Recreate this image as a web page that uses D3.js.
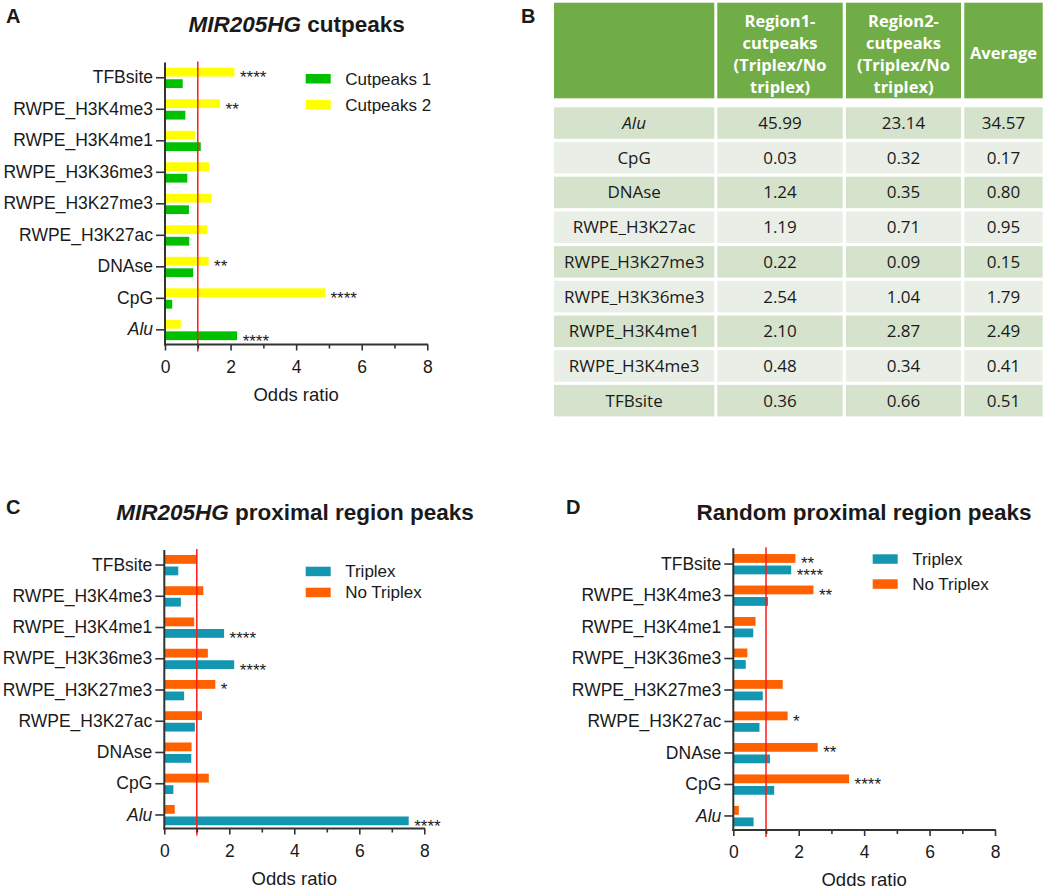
<!DOCTYPE html>
<html>
<head>
<meta charset="utf-8">
<script src="https://cdn.jsdelivr.net/npm/d3@7"></script>
<style>
  body { margin: 0; background: #fff; }
  svg text { font-family: "Liberation Sans", Arial, sans-serif; fill: #1a1a1a; }
  .tbl text { font-family: "Open Sans", "Noto Sans", sans-serif; }
</style>
</head>
<body>
<svg id="fig" width="1045" height="890"></svg>
<script>
// categories, top to bottom as plotted
var categories = ["TFBsite", "RWPE_H3K4me3", "RWPE_H3K4me1", "RWPE_H3K36me3",
    "RWPE_H3K27me3", "RWPE_H3K27ac", "DNAse", "CpG", "Alu"]
var italicCats = ["Alu"]

// panel A
var cutpeaks1 = [0.54, 0.62, 1.09, 0.68, 0.73, 0.74, 0.86, 0.22, 2.20]
var cutpeaks2 = [2.12, 1.68, 0.91, 1.35, 1.41, 1.29, 1.33, 4.88, 0.48]
var starsCut1 = ["", "", "", "", "", "", "", "", "****"]
var starsCut2 = ["****", "**", "", "", "", "", "**", "****", ""]

// panel C
var cTriplex = [0.43, 0.51, 1.84, 2.15, 0.61, 0.94, 0.83, 0.28, 7.52]
var cNoTriplex = [1.00, 1.20, 0.92, 1.34, 1.57, 1.16, 0.84, 1.37, 0.32]
var starsCTriplex = ["", "", "****", "****", "", "", "", "", "****"]
var starsCNoTriplex = ["", "", "", "", "*", "", "", "", ""]

// panel D
var dTriplex = [1.77, 1.06, 0.61, 0.38, 0.90, 0.80, 1.12, 1.25, 0.62]
var dNoTriplex = [1.90, 2.45, 0.68, 0.43, 1.51, 1.66, 2.58, 3.54, 0.17]
var starsDTriplex = ["****", "", "", "", "", "", "", "", ""]
var starsDNoTriplex = ["**", "**", "", "", "", "*", "**", "****", ""]

var majorTicks = [0, 2, 4, 6, 8]
var minorTicks = [1, 3, 5, 7]
var refLine = 1

// panel B table
var tableHead = [[], ["Region1-", "cutpeaks", "(Triplex/No", "triplex)"],
    ["Region2-", "cutpeaks", "(Triplex/No", "triplex)"], ["Average"]]
var tableRows = ["Alu", "CpG", "DNAse", "RWPE_H3K27ac", "RWPE_H3K27me3",
    "RWPE_H3K36me3", "RWPE_H3K4me1", "RWPE_H3K4me3", "TFBsite"]
var region1 = ["45.99", "0.03", "1.24", "1.19", "0.22", "2.54", "2.10", "0.48", "0.36"]
var region2 = ["23.14", "0.32", "0.35", "0.71", "0.09", "1.04", "2.87", "0.34", "0.66"]
var average = ["34.57", "0.17", "0.80", "0.95", "0.15", "1.79", "2.49", "0.41", "0.51"]

var GREEN = "#00c000", YELLOW = "#ffff00", TEAL = "#1396b0", ORANGE = "#ff6000"
var AXIS = "#333"

var svg = d3.select("#fig")

function drawPanel(cfg) {
    var g = svg.append("g")
    var x = d3.scaleLinear().domain([0, 8]).range(cfg.xRange)
    var y = d3.scaleBand().domain(categories).range(cfg.bandRange)

    // bars: series[0] above the tick, series[1] below
    cfg.series.forEach(function (s, si) {
        var off = si === 0 ? -10 : 1.5
        g.selectAll(null).data(s.values).enter().append("rect")
            .attr("x", x(0))
            .attr("y", function (d, i) { return y(categories[i]) + y.bandwidth() / 2 + off })
            .attr("width", function (d) { return x(d) - x(0) })
            .attr("height", 8.8)
            .attr("fill", s.color)
        g.selectAll(null).data(s.stars).enter().append("text")
            .attr("x", function (d, i) { return x(s.values[i]) + 5.5 })
            .attr("y", function (d, i) { return y(categories[i]) + y.bandwidth() / 2 + off + 4.4 + 11 })
            .style("font-size", "17px")
            .text(function (d) { return d })
    })

    // reference line
    g.append("line")
        .attr("x1", x(refLine)).attr("x2", x(refLine))
        .attr("y1", cfg.top - 1).attr("y2", cfg.axisY + 7)
        .attr("stroke", "#ff1a1a").attr("stroke-width", 1.5)

    // x axis
    var xAxis = g.append("g").attr("transform", "translate(0," + cfg.axisY + ")")
        .call(d3.axisBottom(x).tickValues(majorTicks).tickSize(6).tickPadding(10).tickSizeOuter(0))
    xAxis.select(".domain").remove()
    xAxis.selectAll("line").attr("stroke", AXIS).attr("stroke-width", 1.6)
    xAxis.selectAll("text").style("font-size", "17.5px").attr("fill", "#1a1a1a")
        .style("font-family", "Liberation Sans, Arial, sans-serif")
    var xMinor = g.append("g").attr("transform", "translate(0," + cfg.axisY + ")")
        .call(d3.axisBottom(x).tickValues(minorTicks).tickSize(4).tickFormat("").tickSizeOuter(0))
    xMinor.select(".domain").remove()
    xMinor.selectAll("line").attr("stroke", AXIS).attr("stroke-width", 1.6)

    // y axis
    var yAxis = g.append("g").attr("transform", "translate(" + x(0) + ",0)")
        .call(d3.axisLeft(y).tickSize(9).tickPadding(3).tickSizeOuter(0))
    yAxis.select(".domain").remove()
    yAxis.selectAll("line").attr("stroke", AXIS).attr("stroke-width", 1.6)
    yAxis.selectAll("text").style("font-size", "17.5px").attr("fill", "#1a1a1a")
        .style("font-family", "Liberation Sans, Arial, sans-serif")
        .style("font-style", function (d) { return italicCats.indexOf(d) >= 0 ? "italic" : "normal" })

    // axis lines
    g.append("line").attr("x1", x(0)).attr("x2", x(0))
        .attr("y1", cfg.top).attr("y2", cfg.axisY + 1)
        .attr("stroke", AXIS).attr("stroke-width", 2)
    g.append("line").attr("x1", x(0) - 1).attr("x2", x(8) + 0.8)
        .attr("y1", cfg.axisY).attr("y2", cfg.axisY)
        .attr("stroke", AXIS).attr("stroke-width", 2)

    g.append("text")
        .attr("x", (x(0) + x(8)) / 2).attr("y", cfg.axisY + 56)
        .attr("text-anchor", "middle").style("font-size", "18.5px")
        .text("Odds ratio")

    // legend
    cfg.legend.forEach(function (l, i) {
        var ly = cfg.legendY + i * cfg.legendStep
        g.append("rect").attr("x", cfg.legendX).attr("y", ly)
            .attr("width", 25).attr("height", 9.5).attr("fill", l.color)
        g.append("text").attr("x", cfg.legendX + 39.5).attr("y", ly + 10.5)
            .style("font-size", "17px").text(l.name)
    })

    // title
    var t = g.append("text").attr("x", cfg.titleX).attr("y", cfg.titleY)
        .attr("text-anchor", "middle").style("font-size", "22.5px").style("font-weight", "bold")
    cfg.title.forEach(function (p) {
        t.append("tspan").style("font-style", p.italic ? "italic" : "normal").text(p.text)
    })
    g.append("text").attr("x", cfg.labelX).attr("y", cfg.labelY)
        .style("font-size", "20px").style("font-weight", "bold").text(cfg.label)
}

drawPanel({
    xRange: [165, 427.3], bandRange: [62, 345.6], top: 62.5, axisY: 344.5,
    series: [{values: cutpeaks2, color: YELLOW, stars: starsCut2},
        {values: cutpeaks1, color: GREEN, stars: starsCut1}],
    legend: [{name: "Cutpeaks 1", color: GREEN}, {name: "Cutpeaks 2", color: YELLOW}],
    legendX: 305.7, legendY: 74, legendStep: 26,
    title: [{text: "MIR205HG", italic: true}, {text: " cutpeaks"}],
    titleX: 296.7, titleY: 32, label: "A", labelX: 6, labelY: 23
})

drawPanel({
    xRange: [164.3, 424.3], bandRange: [549.4, 830.6], top: 550, axisY: 828.5,
    series: [{values: cNoTriplex, color: ORANGE, stars: starsCNoTriplex},
        {values: cTriplex, color: TEAL, stars: starsCTriplex}],
    legend: [{name: "Triplex", color: TEAL}, {name: "No Triplex", color: ORANGE}],
    legendX: 305.7, legendY: 566.7, legendStep: 21,
    title: [{text: "MIR205HG", italic: true}, {text: " proximal region peaks"}],
    titleX: 295, titleY: 520, label: "C", labelX: 6, labelY: 514
})

drawPanel({
    xRange: [733.3, 995], bandRange: [548.3, 831.7], top: 548.3, axisY: 830,
    series: [{values: dNoTriplex, color: ORANGE, stars: starsDNoTriplex},
        {values: dTriplex, color: TEAL, stars: starsDTriplex}],
    legend: [{name: "Triplex", color: TEAL}, {name: "No Triplex", color: ORANGE}],
    legendX: 872.7, legendY: 554.3, legendStep: 25,
    title: [{text: "Random proximal region peaks"}],
    titleX: 864, titleY: 520, label: "D", labelX: 566, labelY: 514
})

// panel B: table
var tbl = svg.append("g").attr("class", "tbl")
var colX = [[554, 714.3], [717.3, 842.7], [846, 961], [964.3, 1042.7]]
var rowTop = 107.3, rowStep = 34.7, rowH = 31.5
var headTop = 2.7, headBottom = 98.3

colX.forEach(function (c, ci) {
    tbl.append("rect").attr("x", c[0]).attr("y", headTop)
        .attr("width", c[1] - c[0]).attr("height", headBottom - headTop)
        .attr("fill", "#70ad47")
    var lines = tableHead[ci]
    var base = lines.length === 1 ? 59 : 27
    lines.forEach(function (l, li) {
        tbl.append("text").attr("x", (c[0] + c[1]) / 2).attr("y", base + li * 22)
            .attr("text-anchor", "middle").style("font-size", "16.5px")
            .style("font-weight", "bold").style("fill", "#fff").text(l)
    })
})

var cols = [tableRows, region1, region2, average]
tableRows.forEach(function (r, ri) {
    var ty = rowTop + ri * rowStep
    colX.forEach(function (c, ci) {
        tbl.append("rect").attr("x", c[0]).attr("y", ty)
            .attr("width", c[1] - c[0]).attr("height", rowH)
            .attr("fill", ri % 2 === 0 ? "#d5e3cd" : "#e9efe6")
        tbl.append("text").attr("x", (c[0] + c[1]) / 2).attr("y", ty + rowH / 2 + 6)
            .attr("text-anchor", "middle").style("font-size", "17px")
            .style("font-style", ci === 0 && italicCats.indexOf(r) >= 0 ? "italic" : "normal")
            .text(cols[ci][ri])
    })
})
svg.append("text").attr("x", 521).attr("y", 23)
    .style("font-size", "20px").style("font-weight", "bold").text("B")
</script>
</body>
</html>
